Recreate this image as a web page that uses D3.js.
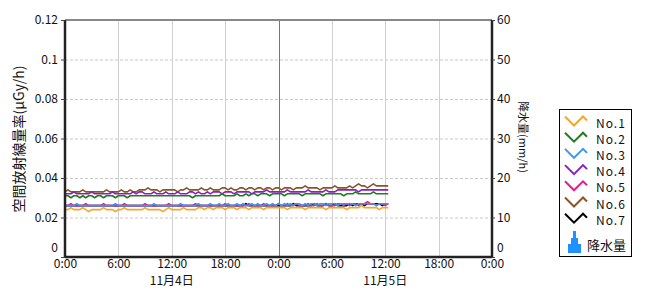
<!DOCTYPE html>
<html><head><meta charset="utf-8">
<script src="https://cdn.jsdelivr.net/npm/d3@7"></script>
<style>
body{margin:0;background:#fff;}
svg{display:block;font-family:"Noto Sans CJK JP","DejaVu Sans",sans-serif;}
</style></head><body>
<svg id="c" width="670" height="300"></svg>
<script>
// ---- data ----
const seriesNames = ["No.1","No.2","No.3","No.4","No.5","No.6","No.7"];
const seriesColors = ["#F5A623","#1E7D1E","#3B96F0","#8A1FC4","#E0208C","#8B5429","#000000"];
const startTime = new Date(2021,10,4,0,0);
const stepMinutes = 20;
const no1 = [0.024,0.024,0.025,0.024,0.024,0.024,0.025,0.024,0.023,0.024,0.024,0.024,
0.024,0.025,0.024,0.024,0.024,0.023,0.024,0.024,0.025,0.024,0.024,0.024,
0.024,0.024,0.024,0.025,0.024,0.024,0.024,0.024,0.024,0.023,0.024,0.025,
0.024,0.024,0.024,0.024,0.025,0.024,0.024,0.024,0.024,0.025,0.025,0.024,
0.025,0.025,0.024,0.025,0.025,0.025,0.024,0.025,0.025,0.025,0.024,0.025,
0.025,0.025,0.024,0.025,0.025,0.025,0.025,0.024,0.025,0.025,0.025,0.025,
0.025,0.025,0.025,0.024,0.025,0.025,0.025,0.025,0.025,0.024,0.025,0.025,
0.025,0.025,0.025,0.025,0.024,0.025,0.025,0.025,0.025,0.025,0.025,0.024,
0.025,0.025,0.025,0.025,0.026,0.025,0.025,0.025,0.025,0.025,0.024,0.025,0.025,0.025];
const no2 = [0.031,0.031,0.030,0.031,0.031,0.030,0.031,0.030,0.031,0.031,0.030,0.031,
0.031,0.030,0.031,0.031,0.031,0.030,0.031,0.031,0.031,0.030,0.031,0.031,
0.031,0.031,0.031,0.031,0.031,0.031,0.031,0.031,0.031,0.031,0.031,0.031,
0.031,0.031,0.031,0.031,0.031,0.031,0.031,0.030,0.031,0.031,0.031,0.031,
0.031,0.031,0.031,0.031,0.031,0.032,0.031,0.031,0.031,0.031,0.032,0.031,
0.031,0.032,0.031,0.032,0.032,0.031,0.032,0.032,0.032,0.031,0.032,0.032,
0.032,0.032,0.031,0.032,0.032,0.032,0.032,0.032,0.031,0.032,0.032,0.032,
0.032,0.032,0.032,0.031,0.032,0.032,0.032,0.032,0.032,0.032,0.031,0.032,
0.032,0.032,0.033,0.032,0.032,0.032,0.032,0.032,0.033,0.032,0.032,0.032,0.032,0.032];
const no3 = [0.026,0.026,0.026,0.026,0.027,0.026,0.026,0.026,0.026,0.026,0.026,0.026,
0.026,0.026,0.026,0.026,0.026,0.027,0.026,0.026,0.026,0.026,0.026,0.026,
0.026,0.026,0.026,0.026,0.026,0.026,0.027,0.026,0.026,0.026,0.026,0.026,
0.026,0.026,0.026,0.027,0.026,0.026,0.026,0.026,0.026,0.027,0.026,0.026,
0.026,0.027,0.026,0.026,0.027,0.026,0.026,0.027,0.026,0.026,0.027,0.026,
0.027,0.026,0.026,0.027,0.026,0.027,0.026,0.026,0.027,0.026,0.027,0.026,
0.027,0.026,0.027,0.026,0.027,0.026,0.027,0.027,0.026,0.027,0.026,0.027,
0.027,0.026,0.027,0.027,0.026,0.027,0.027,0.027,0.026,0.027,0.027,0.027,
0.027,0.027,0.026,0.027,0.027,0.027,0.027,0.027,0.027,0.026,0.027,0.027,0.027,0.027];
const no4 = [0.032,0.032,0.032,0.033,0.032,0.032,0.032,0.032,0.032,0.033,0.032,0.032,
0.032,0.032,0.032,0.032,0.033,0.032,0.032,0.032,0.032,0.032,0.032,0.033,
0.032,0.033,0.033,0.032,0.032,0.032,0.033,0.032,0.032,0.032,0.033,0.032,
0.032,0.032,0.033,0.032,0.032,0.032,0.033,0.033,0.032,0.033,0.032,0.032,
0.033,0.032,0.033,0.033,0.033,0.032,0.033,0.033,0.033,0.032,0.033,0.033,
0.033,0.033,0.033,0.032,0.033,0.033,0.033,0.033,0.034,0.033,0.033,0.033,
0.033,0.033,0.033,0.034,0.033,0.033,0.033,0.033,0.033,0.033,0.034,0.033,
0.033,0.033,0.033,0.033,0.034,0.033,0.033,0.033,0.034,0.034,0.034,0.034,
0.034,0.034,0.034,0.033,0.034,0.034,0.034,0.034,0.034,0.034,0.034,0.034,0.034,0.034];
const no5 = [0.026,0.026,0.027,0.026,0.026,0.026,0.026,0.027,0.026,0.026,0.026,0.026,
0.026,0.027,0.026,0.026,0.026,0.026,0.026,0.026,0.027,0.026,0.026,0.026,
0.026,0.026,0.026,0.027,0.026,0.026,0.026,0.026,0.026,0.026,0.026,0.027,
0.026,0.026,0.026,0.026,0.026,0.026,0.026,0.026,0.027,0.026,0.026,0.026,
0.026,0.026,0.026,0.026,0.026,0.026,0.027,0.026,0.026,0.026,0.026,0.026,
0.026,0.026,0.027,0.026,0.026,0.026,0.026,0.027,0.026,0.026,0.026,0.026,
0.027,0.026,0.026,0.027,0.026,0.026,0.027,0.026,0.026,0.026,0.027,0.026,
0.026,0.027,0.026,0.026,0.027,0.026,0.026,0.026,0.027,0.027,0.026,0.027,
0.026,0.027,0.027,0.026,0.027,0.027,0.028,0.027,0.027,0.026,0.027,0.027,0.026,0.027];
const no6 = [0.033,0.034,0.033,0.033,0.033,0.033,0.034,0.033,0.033,0.033,0.033,0.033,
0.033,0.033,0.034,0.033,0.033,0.033,0.033,0.034,0.033,0.033,0.034,0.033,
0.033,0.034,0.034,0.034,0.035,0.034,0.034,0.034,0.033,0.034,0.034,0.034,
0.034,0.034,0.033,0.034,0.034,0.035,0.034,0.034,0.034,0.034,0.035,0.034,
0.034,0.035,0.034,0.034,0.034,0.035,0.035,0.034,0.035,0.034,0.034,0.035,
0.035,0.034,0.035,0.035,0.034,0.035,0.035,0.034,0.035,0.035,0.034,0.035,
0.035,0.034,0.035,0.035,0.035,0.034,0.035,0.035,0.035,0.036,0.035,0.035,
0.035,0.035,0.034,0.035,0.035,0.035,0.035,0.036,0.035,0.035,0.035,0.035,
0.036,0.035,0.036,0.037,0.036,0.036,0.035,0.036,0.037,0.036,0.036,0.036,0.036,0.036];
const no7 = [0.026,0.026,0.026,0.026,0.026,0.026,0.026,0.026,0.026,0.026,0.026,0.026,
0.026,0.026,0.026,0.026,0.026,0.026,0.026,0.026,0.026,0.026,0.026,0.026,
0.026,0.026,0.026,0.026,0.026,0.026,0.026,0.026,0.026,0.026,0.026,0.026,
0.026,0.026,0.026,0.026,0.026,0.026,0.026,0.026,0.026,0.026,0.026,0.026,
0.026,0.026,0.026,0.026,0.026,0.026,0.026,0.026,0.026,0.026,0.026,0.026,
0.026,0.027,0.026,0.026,0.026,0.026,0.026,0.026,0.026,0.026,0.026,0.026,
0.026,0.026,0.026,0.026,0.026,0.027,0.026,0.026,0.026,0.026,0.026,0.026,
0.027,0.026,0.026,0.026,0.027,0.026,0.026,0.027,0.026,0.026,0.026,0.026,
0.027,0.026,0.027,0.027,0.027,0.026,0.027,0.027,0.027,0.027,0.027,0.026,0.027,0.027];
const rainfall = []; // no precipitation recorded
const yLeftTicks = [0,0.02,0.04,0.06,0.08,0.1,0.12];
const yRightTicks = [0,10,20,30,40,50,60];
const dateLabels = ["11月4日","11月5日"];
const leftTitle = "空間放射線量率(μGy/h)";
const rightTitle = "降水量(mm/h)";
const rainLegend = "降水量";

// ---- chart ----
const series = [no1,no2,no3,no4,no5,no6,no7];
const svg = d3.select("#c");
const L=65, R=492, T=20, B=257;
const x = d3.scaleTime().domain([startTime, d3.timeDay.offset(startTime,2)]).range([L,R]);
const y = d3.scaleLinear().domain([0,0.12]).range([B,T]);
const yR = d3.scaleLinear().domain([0,60]).range([B,T]);
const timeAt = i => d3.timeMinute.offset(startTime, i*stepMinutes);
const xTicks = d3.timeHour.every(6).range(startTime, d3.timeHour.offset(d3.timeDay.offset(startTime,2),1));

// gridlines
svg.append("g").selectAll("line").data(yLeftTicks.slice(1)).join("line")
  .attr("x1",L).attr("x2",R).attr("y1",d=>y(d)+0.5).attr("y2",d=>y(d)+0.5)
  .attr("stroke","#c8c8c8").attr("stroke-dasharray","3,2");
svg.append("g").selectAll("line").data(xTicks.slice(1,-1)).join("line")
  .attr("x1",d=>Math.round(x(d))+0.5).attr("x2",d=>Math.round(x(d))+0.5).attr("y1",T).attr("y2",B)
  .attr("stroke",(d,i)=>i===3?"#777":"#cfcfcf");

// top border
svg.append("line").attr("x1",L).attr("x2",R).attr("y1",T).attr("y2",T).attr("stroke","#888").attr("stroke-width",2);

// rainfall bars (none)
svg.append("g").selectAll("rect").data(rainfall).join("rect")
  .attr("x",d=>x(d.t)).attr("width",3).attr("y",d=>yR(d.v)).attr("height",d=>B-yR(d.v)).attr("fill","#1E90FF");

// lines
const line = d3.line().x((d,i)=>x(timeAt(i))).y(d=>y(d));
const order = [6,4,2,5,3,1,0];
svg.append("g").selectAll("path").data(order).join("path")
  .attr("d",k=>line(series[k])).attr("fill","none")
  .attr("stroke",k=>seriesColors[k]).attr("stroke-width",1.6).attr("stroke-linejoin","round");

// axes
const fs = "12px";
const gl = svg.append("g").attr("transform",`translate(${L},0)`)
  .call(d3.axisLeft(y).tickValues(yLeftTicks).tickFormat(d3.format("")).tickSize(4).tickPadding(3));
const gr = svg.append("g").attr("transform",`translate(${R},0)`)
  .call(d3.axisRight(yR).tickValues(yRightTicks).tickSize(3).tickPadding(2));
const gb = svg.append("g").attr("transform",`translate(0,${B})`)
  .call(d3.axisBottom(x).tickValues(xTicks).tickFormat(d3.timeFormat("%-H:%M")).tickSize(0).tickPadding(2));
[gl,gr,gb].forEach(g=>{
  g.selectAll(".domain").attr("stroke","#222").attr("stroke-width",2.5);
  g.selectAll(".tick line").attr("stroke","#444");
  g.selectAll("text").attr("font-size",fs).attr("fill","#111").attr("font-family","'Noto Sans CJK JP',sans-serif");
});
gl.select(".domain").attr("d",`M0,${T}V${B}`);
gr.select(".domain").attr("d",`M0,${T}V${B}`);
gb.select(".domain").attr("d",`M${L},0H${R}`);
gl.selectAll(".tick").filter(d=>d===0).select("text").attr("dy","-0.5em");
gr.selectAll(".tick").filter(d=>d===0).select("text").attr("dy","-0.5em");
gb.selectAll("text").attr("dy","0.75em");

// date labels
svg.append("g").selectAll("text").data(dateLabels).join("text")
  .attr("x",(d,i)=>x(d3.timeHour.offset(startTime,12+24*i))).attr("y",285)
  .attr("text-anchor","middle").attr("font-size",fs).attr("fill","#111").text(d=>d);

// titles
svg.append("text").attr("transform","translate(24,139) rotate(-90)").attr("text-anchor","middle")
  .attr("font-size","14px").attr("fill","#111").text(leftTitle);
svg.append("text").attr("transform","translate(519,137) rotate(90)").attr("text-anchor","middle")
  .attr("font-size","11px").attr("fill","#111").text(rightTitle);

// legend
const lg = svg.append("g");
lg.append("rect").attr("x",559.5).attr("y",109.5).attr("width",72).attr("height",147)
  .attr("fill","#fff").attr("stroke","#000");
const rows = lg.selectAll("g.row").data(seriesNames).join("g").attr("class","row")
  .attr("transform",(d,i)=>`translate(0,${122.5+i*16.2})`);
rows.append("path").attr("d","M565,-6L574,3L583,-6L587,-2").attr("fill","none")
  .attr("stroke",(d,i)=>seriesColors[i]).attr("stroke-width",2);
rows.append("text").attr("x",596).attr("y",5).attr("font-size",fs).attr("letter-spacing","1px").attr("fill","#111").text(d=>d);
lg.append("path").attr("d","M568,253V244H571V238H573V231H576V238H578V244H581V253Z").attr("fill","#1E90FF");
lg.append("text").attr("x",587).attr("y",250).attr("font-size","13px").attr("fill","#111").text(rainLegend);
</script>
</body></html>
